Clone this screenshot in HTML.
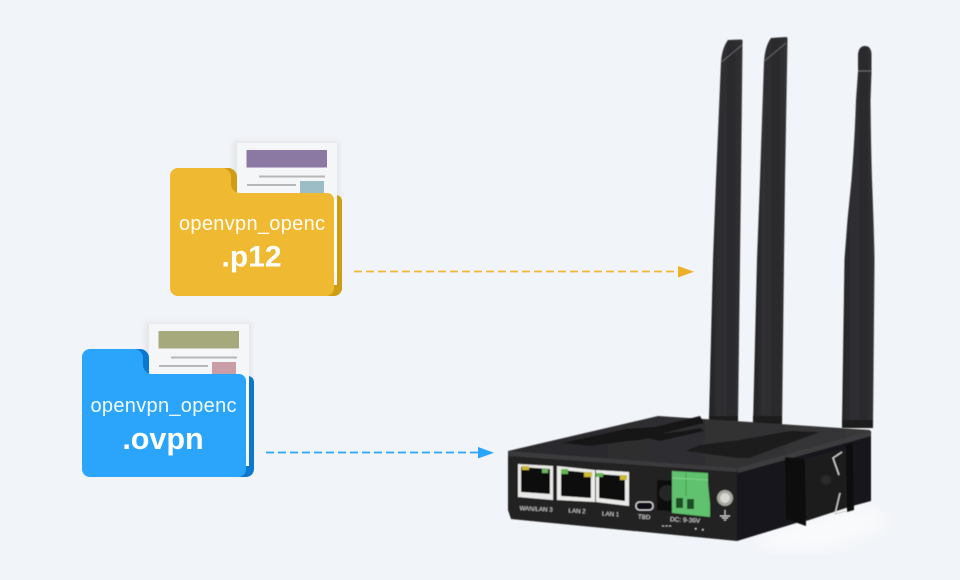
<!DOCTYPE html>
<html><head><meta charset="utf-8">
<style>html,body{margin:0;padding:0;background:#f1f4f8}svg{display:block}text{font-family:"Liberation Sans",sans-serif}</style>
</head><body>
<svg width="960" height="580" viewBox="0 0 960 580" xmlns="http://www.w3.org/2000/svg">
<defs>
<linearGradient id="ant" x1="0" x2="1" y1="0" y2="0"><stop offset="0" stop-color="#222224"/><stop offset=".3" stop-color="#303032"/><stop offset=".7" stop-color="#2a2a2c"/><stop offset="1" stop-color="#323235"/></linearGradient>
<linearGradient id="antd" x1="0" x2="0" y1="0" y2="1"><stop offset="0" stop-color="#000" stop-opacity="0"/><stop offset=".55" stop-color="#000" stop-opacity=".05"/><stop offset="1" stop-color="#000" stop-opacity=".4"/></linearGradient>
<linearGradient id="top" x1="0" x2="1" y1="0" y2="0"><stop offset="0" stop-color="#2a2a2c"/><stop offset=".5" stop-color="#2f2f31"/><stop offset="1" stop-color="#38383a"/></linearGradient>
<filter id="b"><feGaussianBlur stdDeviation="8"/></filter>
<filter id="ds"><feGaussianBlur stdDeviation="2"/></filter>
<filter id="s"><feGaussianBlur stdDeviation=".5"/></filter>
</defs>
<rect width="960" height="580" fill="#f1f4f8"/>
<!-- yellow folder -->
<g>
<rect x="233" y="141" width="107" height="60" fill="#dfe1e4" filter="url(#ds)" opacity=".7"/>
<path d="M236 195H336a6 6 0 0 1 6 6V288a8 8 0 0 1-8 8H320V195Z" fill="#cd9d13"/>
<path d="M190 168H228a9 9 0 0 1 9 9V200H190Z" fill="#cd9d13"/>
<rect x="237" y="143" width="100" height="142" fill="#f5f6f8"/>
<rect x="246.500" y="150" width="80.500" height="17.500" fill="#8b78a3"/>
<rect x="259" y="175.500" width="66" height="2" fill="#b4b6b8"/>
<rect x="247" y="184" width="49" height="2" fill="#b4b6b8"/>
<rect x="300" y="181" width="24" height="13" fill="#9cbcc6"/>
<path d="M178 168H222a9 9 0 0 1 9 9V184a9 9 0 0 0 9 9H327a7 7 0 0 1 7 7V288a8 8 0 0 1-8 8H178a8 8 0 0 1-8-8V176a8 8 0 0 1 8-8Z" fill="#f0b932"/>
<rect x="334" y="200" width="3" height="72" fill="#fbfbfb"/>
<text x="252" y="230" font-size="20" fill="#fff" fill-opacity=".95" text-anchor="middle" textLength="146">openvpn_openc</text>
<text x="251.500" y="266.500" font-size="30" font-weight="700" fill="#fff" text-anchor="middle">.p12</text>
</g>
<!-- blue folder -->
<g>
<rect x="145" y="322" width="107" height="60" fill="#dfe1e4" filter="url(#ds)" opacity=".7"/>
<path d="M148 376H248a6 6 0 0 1 6 6V469a8 8 0 0 1-8 8H232V376Z" fill="#0a78cf"/>
<path d="M102 349H140a9 9 0 0 1 9 9V381H102Z" fill="#0a78cf"/>
<rect x="149" y="324" width="100" height="142" fill="#f5f6f8"/>
<rect x="158.500" y="331" width="80.500" height="17.500" fill="#a5a97c"/>
<rect x="171" y="356.500" width="66" height="2" fill="#b4b6b8"/>
<rect x="159" y="365" width="49" height="2" fill="#b4b6b8"/>
<rect x="212" y="362" width="24" height="13" fill="#c99ea6"/>
<path d="M90 349H134a9 9 0 0 1 9 9V365a9 9 0 0 0 9 9H239a7 7 0 0 1 7 7V469a8 8 0 0 1-8 8H90a8 8 0 0 1-8-8V357a8 8 0 0 1 8-8Z" fill="#2aa5fb"/>
<rect x="246" y="381" width="3" height="72" fill="#fbfbfb"/>
<text x="163.500" y="412" font-size="20" fill="#fff" fill-opacity=".95" text-anchor="middle" textLength="146">openvpn_openc</text>
<text x="163" y="449" font-size="30.500" font-weight="700" fill="#fff" text-anchor="middle">.ovpn</text>
</g>
<!-- arrows -->
<line x1="354" y1="271.500" x2="680" y2="271.500" stroke="#eeb63a" stroke-width="1.800" stroke-dasharray="8 4"/>
<polygon points="678,266 694,271.700 678,277.500" fill="#eeb029"/>
<line x1="266" y1="452.500" x2="480" y2="452.500" stroke="#2aa5fb" stroke-width="1.800" stroke-dasharray="8 4"/>
<polygon points="478,447 494,452.700 478,458.500" fill="#2aa5fb"/>
<!-- floor glow -->
<polygon points="760,530 870,505 890,525 830,550 760,550" fill="#f9fafc" filter="url(#b)"/>
<!-- antennas -->
<g filter="url(#s)">
<path d="M728 40 L741 39.500 Q743 40 742.500 42 L741 180 L740 260 L738 420 L709 420 L713 260 L716 180 L721 62 Q722 48 728 40Z" fill="url(#ant)"/>
<path d="M771 38 L786 37 Q787.500 37 787.500 39 L785 180 L784 260 L782 428 L753 426 L757 260 L760 180 L764 62 Q765 46 771 38Z" fill="url(#ant)"/>
<path d="M858 72 L858 54 Q859 46 865 46 Q871 46 871.500 54 L871.500 72 L870.500 100 Q871 150 872 180 Q874 230 874.500 260 L873 425 L842 425 L844.500 260 Q847 220 851.500 180 Q855 135 856 100 Z" fill="url(#ant)"/>
<path d="M709 250H741V420H709Z M753 250H785V426H753Z M842 250H875V425H842Z" fill="url(#antd)" opacity=".5" clip-path="none" style="display:none"/>
<path d="M721.500 62 L742 45" stroke="#77797c" stroke-width=".7" fill="none"/>
<path d="M764.500 61 L786 43" stroke="#77797c" stroke-width=".7" fill="none"/>
<path d="M858 71 H871" stroke="#88898b" stroke-width=".7"/>
<rect x="709" y="416" width="29" height="6" fill="#1a1a1c"/>
<rect x="753" y="416" width="29" height="8" fill="#1a1a1c"/>
<rect x="842" y="420" width="31" height="8" fill="#1a1a1c"/>
</g>
<!-- router -->
<g filter="url(#s)">
<polygon points="508,451 658,416 870,430 871,440 738,472 508,458" fill="url(#top)"/>
<polygon points="737,468 871,431 871,501 830,512 806,520 737,541" fill="#18181a"/>
<polygon points="508,451 737,468 737,541 511,519 508,510" fill="#212123"/>
<polygon points="508,451 737,468 737,472 508,456" fill="#3a3a3d"/>
<polygon points="737,468 870,431 871,436 738,473" fill="#3c3c3f"/>
<polygon points="562,443 625,429 655,427 700,416 704,423 660,434 690,430 640,440 628,441 590,446" fill="#171718"/>
<polygon points="686,451 700,445 740,440 790,431 820,432 749,458 737,458" fill="#1a1a1c"/>
<polygon points="648,438 700,428 704,431 660,441" fill="#131314"/>
<!-- DIN bracket -->
<polygon points="785,457 805,459 806,526 786,519" fill="#0e0e10"/>
<polygon points="805,459 846,448 854,444 855,505 806,521" fill="#1b1b1d"/>
<polygon points="846,445 853,443 854,510 847,512" fill="#0b0b0c"/>
<path d="M842 452 L833 458 L839 475" stroke="#d9d9d9" stroke-width="1.300" fill="none"/>
<path d="M840 493 L835 514 L846 511" stroke="#cfcfcf" stroke-width="1.300" fill="none"/>
<circle cx="826" cy="480" r="5" fill="#2a2a2c"/>
<!-- ports -->
<g>
<polygon points="518,464 553,466 553,500 518,497" fill="#e9e9e7"/>
<polygon points="521,467 550,469 550,494 521,492" fill="#0c0c0e"/>
<rect x="522" y="466" width="7" height="4" fill="#c9b935"/>
<rect x="542" y="469" width="6" height="4" fill="#6db55b"/>
<polygon points="557,466 595,470 595,502 557,500" fill="#ebebe9"/>
<polygon points="561,470 591,473 591,498 561,496" fill="#0b0b0d"/>
<polygon points="596,470 629,472 629,506 596,502" fill="#ebebe9"/>
<polygon points="599,474 625,476 625,501 599,498" fill="#0b0b0d"/>
<rect x="561" y="469" width="7" height="5" fill="#62b451"/>
<rect x="584" y="472" width="8" height="5" fill="#c9b935"/>
<rect x="596" y="473" width="7" height="4" fill="#62b451"/>
<rect x="620" y="475" width="7" height="5" fill="#c9b935"/>
</g>
<!-- usb, jack -->
<rect x="636" y="502" width="17" height="8" rx="3.500" fill="#101012" stroke="#dcdcdc" stroke-width="1.300"/>
<polygon points="657,480 673,481 673,511 657,510" fill="#0e0e10"/>
<circle cx="667" cy="493" r="8" fill="#252527"/>
<!-- terminal -->
<polygon points="672,471 708,473 708,484 710,503 710,517 672,513" fill="#61c16e"/>
<line x1="686" y1="473" x2="686" y2="496" stroke="#3f9f50" stroke-width="1"/>
<line x1="672" y1="478" x2="708" y2="480" stroke="#82d48d" stroke-width="1"/>
<rect x="676" y="498" width="7" height="10" fill="#1d4d27"/>
<rect x="687" y="499" width="7" height="10" fill="#1d4d27"/>
<!-- screw -->
<circle cx="725" cy="498" r="8" fill="#a7a79f"/>
<circle cx="725" cy="498" r="5" fill="#d8d8d2"/>
<path d="M725 510v5M720 516h10M722 518h6M724 520h2" stroke="#d8d8d8" stroke-width=".9"/>
<!-- labels -->
<g fill="#dedede" font-size="6.200" text-anchor="middle">
<text x="536" y="511" transform="rotate(3 536 511)">WAN/LAN 3</text>
<text x="577" y="513" transform="rotate(3 577 513)">LAN 2</text>
<text x="610.500" y="516" transform="rotate(3 610 516)">LAN 1</text>
<text x="644" y="519" transform="rotate(3 644 519)">TBD</text>
<text x="685" y="522" font-size="6.500" transform="rotate(3 685 522)">DC: 9-36V</text>
</g>
<path d="M662 526h10" stroke="#bbb" stroke-width="1" stroke-dasharray="2 1.500"/>
<rect x="695" y="528" width="1.500" height="1.500" fill="#ccc"/>
<rect x="702" y="529" width="1.500" height="1.500" fill="#ccc"/>
</g>
</svg>
</body></html>
